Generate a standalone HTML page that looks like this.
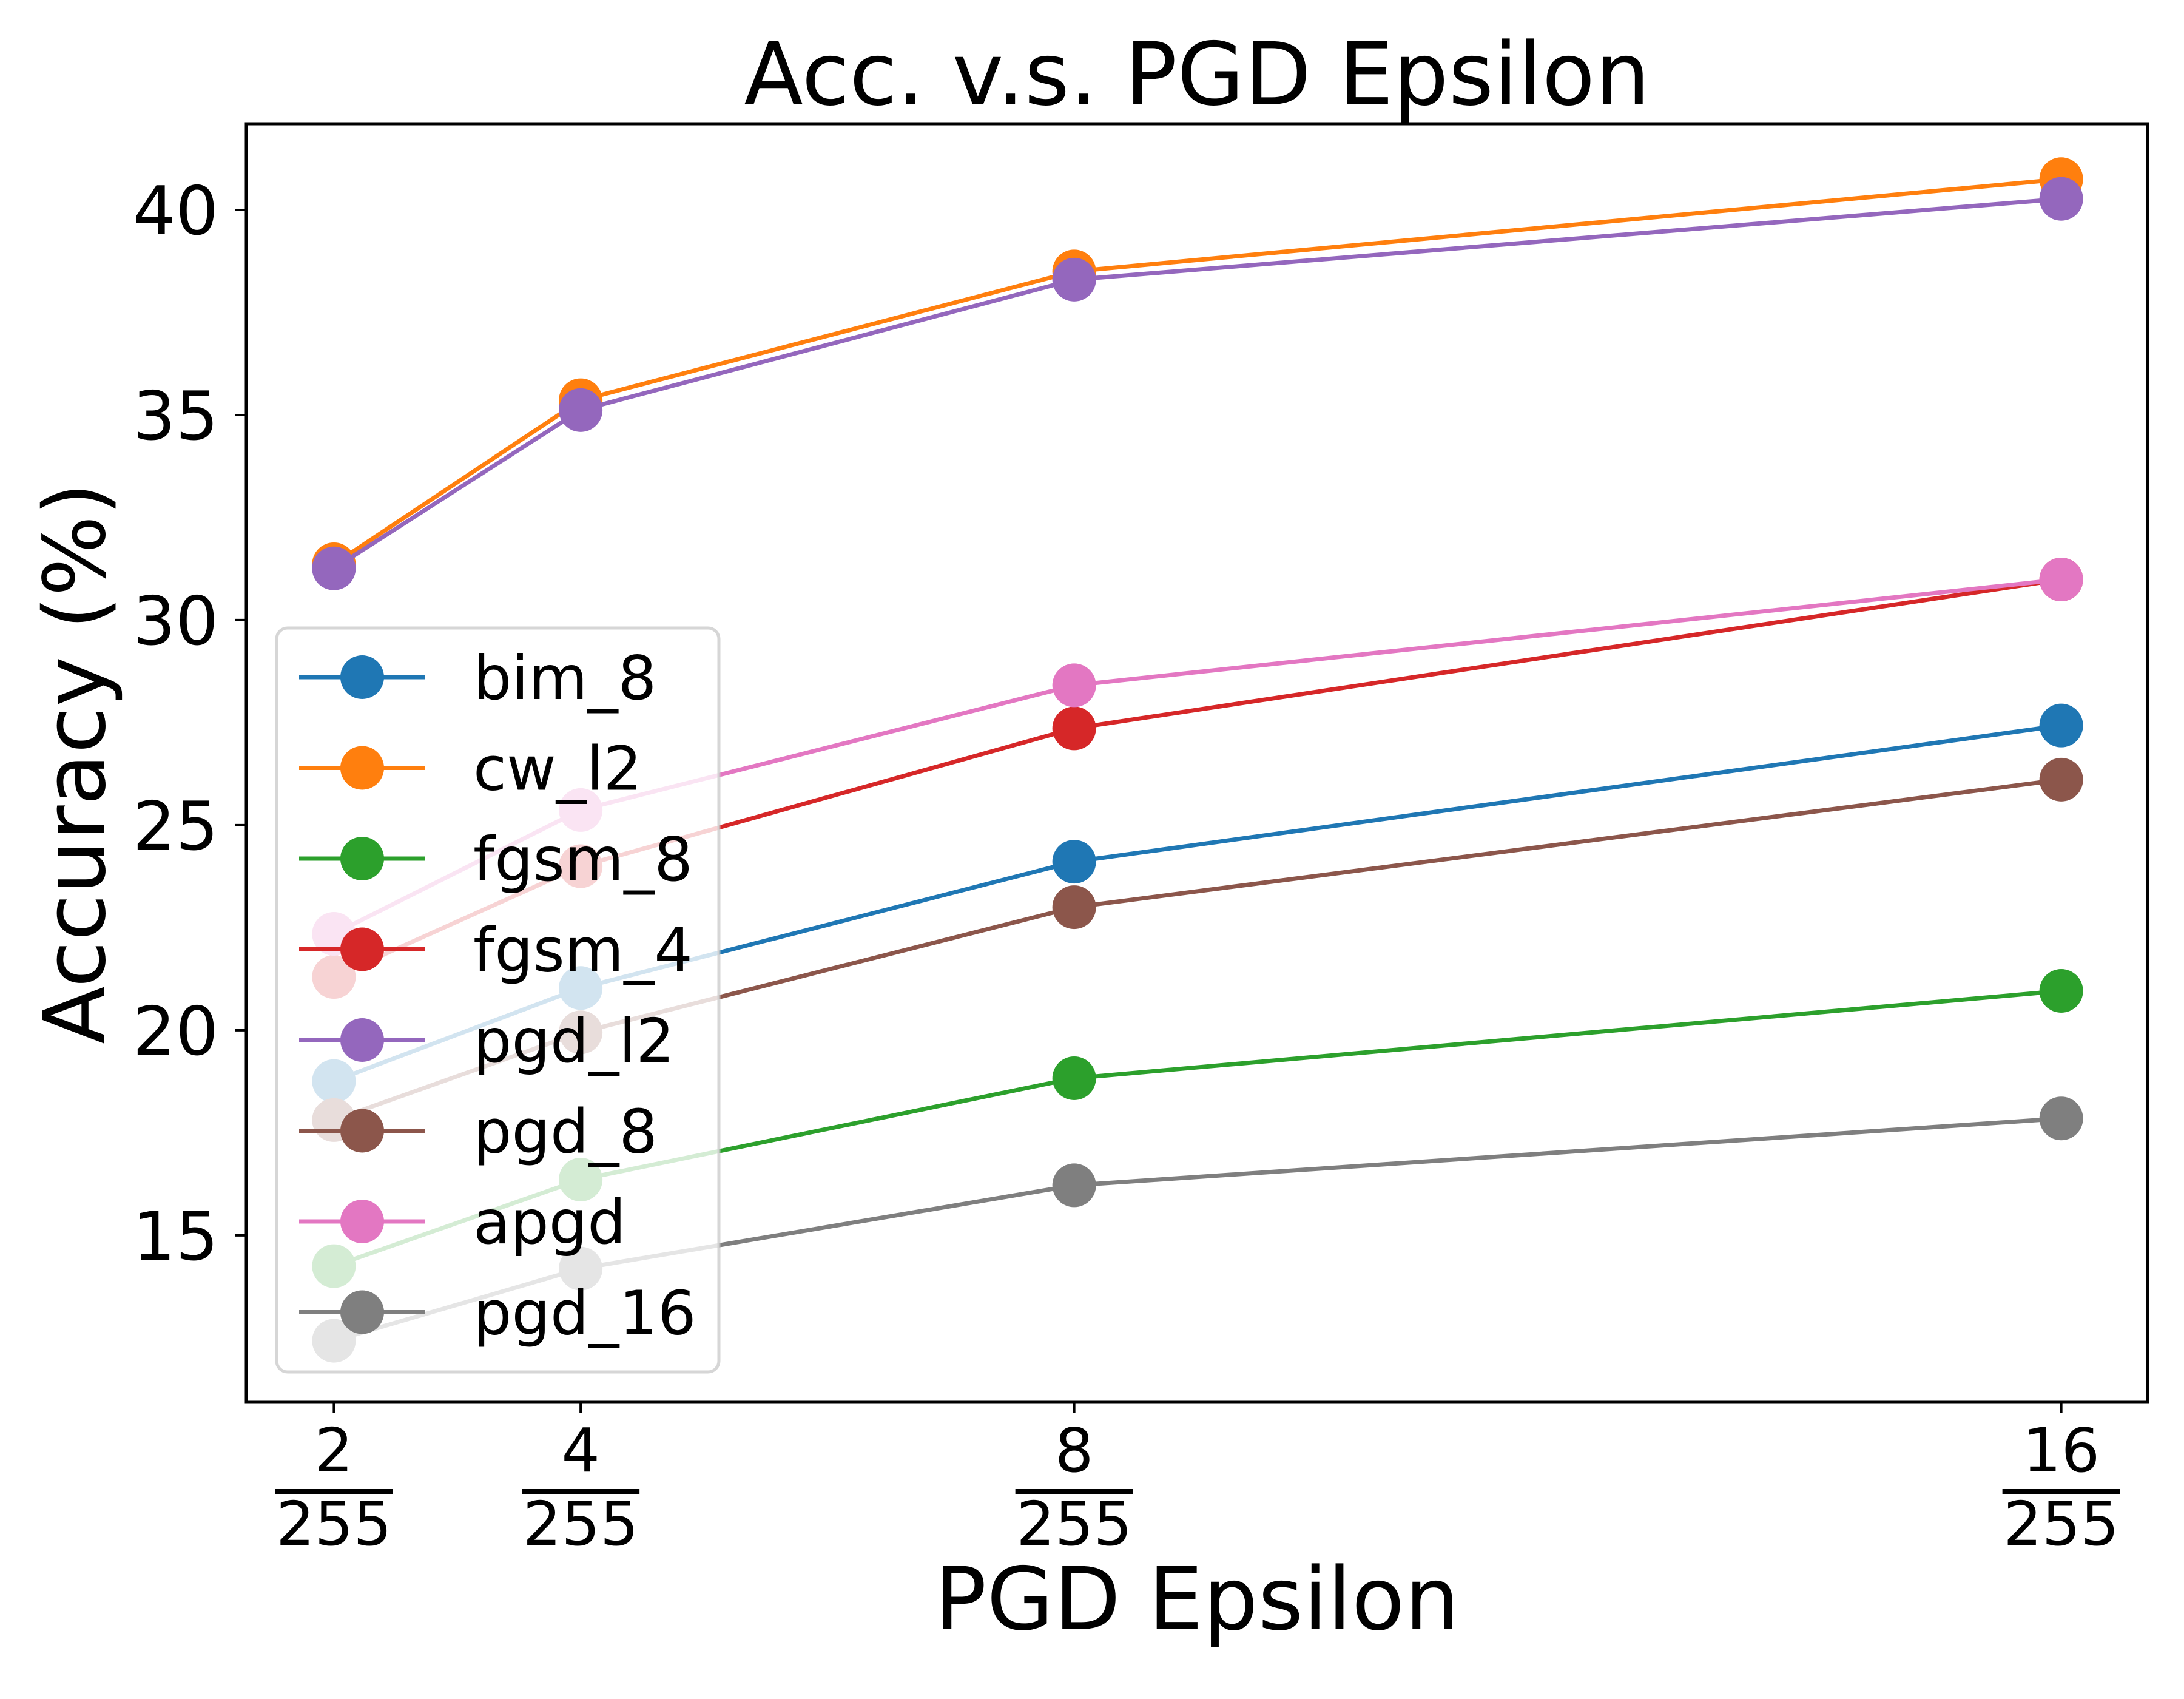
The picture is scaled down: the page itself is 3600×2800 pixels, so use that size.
<!DOCTYPE html>
<html><head><meta charset="utf-8"><style>
html,body{margin:0;padding:0;background:#fff}
svg{display:block}
text{font-family:"DejaVu Sans","Liberation Sans",sans-serif;fill:#000}
</style></head><body>
<svg id="chart" width="3600" height="2800" viewBox="0 0 3600 2800" xmlns="http://www.w3.org/2000/svg">
<rect width="3600" height="2800" fill="#fff"/>
<text x="1973" y="172" font-size="143" text-anchor="middle">Acc. v.s. PGD Epsilon</text>
<text x="1973" y="2685" font-size="143" text-anchor="middle">PGD Epsilon</text>
<text transform="translate(172,1258) rotate(-90)" font-size="140" text-anchor="middle">Accuracy (%)</text>
<g id="plot"></g>
<g id="axes"></g>
<g id="legend"></g>
</svg>
<script>
const epsilons = [2, 4, 8, 16];
const yTicks = [15, 20, 25, 30, 35, 40];
const seriesNames = ["bim_8","cw_l2","fgsm_8","fgsm_4","pgd_l2","pgd_8","apgd","pgd_16"];
const bim8 = [18.76, 21.03, 24.11, 27.43];
const cwl2 = [31.36, 35.36, 38.5, 40.75];
const fgsm8 = [14.25, 16.36, 18.83, 20.96];
const fgsm4 = [21.3, 24.0, 27.36, 30.99];
const pgdl2 = [31.26, 35.12, 38.3, 40.27];
const pgd8 = [17.81, 19.95, 23.0, 26.11];
const apgd = [22.35, 25.37, 28.41, 30.99];
const pgd16 = [12.43, 14.19, 16.22, 17.85];
const seriesValues = [bim8, cwl2, fgsm8, fgsm4, pgdl2, pgd8, apgd, pgd16];
const colors = ["#1f77b4","#ff7f0e","#2ca02c","#d62728","#9467bd","#8c564b","#e377c2","#7f7f7f"];

const NS = "http://www.w3.org/2000/svg";
const L = 406, R = 3540, T = 204, B = 2311;
const xMin = 1.29, xMax = 16.70, yMin = 10.93, yMax = 42.1;
function xs(v){ return L + (v - xMin) / (xMax - xMin) * (R - L); }
function ys(v){ return B - (v - yMin) / (yMax - yMin) * (B - T); }
function mk(tag, attrs, parent){
  const e = document.createElementNS(NS, tag);
  for (const k in attrs) e.setAttribute(k, attrs[k]);
  parent.appendChild(e);
  return e;
}
const plot = document.getElementById('plot');
const axes = document.getElementById('axes');
const legend = document.getElementById('legend');

seriesValues.forEach((vals, i) => {
  const g = mk('g', {}, plot);
  
  
  const pts = vals.map((v, j) => xs(epsilons[j]) + ',' + ys(v)).join(' ');
  const pl = mk('polyline', {points: pts, fill: 'none', stroke: colors[i], 'stroke-width': 7, 'stroke-linejoin': 'round'}, g);
  
  
  vals.forEach((v, j) => {
    const c = mk('circle', {cx: xs(epsilons[j]), cy: ys(v), r: 36, fill: colors[i]}, g);
    
    
  });
});

const frame = mk('rect', {x: L, y: T, width: R - L, height: B - T, fill: 'none', stroke: '#000', 'stroke-width': 5}, axes);



yTicks.forEach(t => {
  const y = ys(t);
  const tk = mk('line', {x1: L - 18, x2: L, y1: y, y2: y, stroke: '#000', 'stroke-width': 4}, axes);
  
  
  const tx = mk('text', {x: 360, y: y + 40, 'font-size': 111, 'text-anchor': 'end'}, axes);
  tx.textContent = t;
  
  
});

epsilons.forEach(e => {
  const x = xs(e);
  const tk = mk('line', {x1: x, x2: x, y1: B, y2: B + 18, stroke: '#000', 'stroke-width': 4}, axes);
  
  
  const g = mk('g', {}, axes);
  
  
  const num = mk('text', {x: x, y: 2425, 'font-size': 100, 'text-anchor': 'middle'}, g);
  num.textContent = e;
  
  
  const bar = mk('rect', {x: x - 97, y: 2454, width: 194, height: 8, fill: '#000'}, g);
  
  
  const den = mk('text', {x: x, y: 2546, 'font-size': 100, 'text-anchor': 'middle'}, g);
  den.textContent = '255';
  
  
});

const box = mk('rect', {x: 456, y: 1035, width: 729, height: 1226, rx: 18, fill: 'rgba(255,255,255,0.8)', stroke: 'rgba(204,204,204,0.8)', 'stroke-width': 5}, legend);


seriesNames.forEach((n, i) => {
  const y = 1116 + i * 149.5;
  const g = mk('g', {}, legend);
  
  
  mk('line', {x1: 493, x2: 701, y1: y, y2: y, stroke: colors[i], 'stroke-width': 7}, g);
  mk('circle', {cx: 597, cy: y, r: 36, fill: colors[i]}, g);
  const t = mk('text', {x: 780, y: y + 36, 'font-size': 100}, g);
  t.textContent = n;
  
  
});
</script>
</body></html>
